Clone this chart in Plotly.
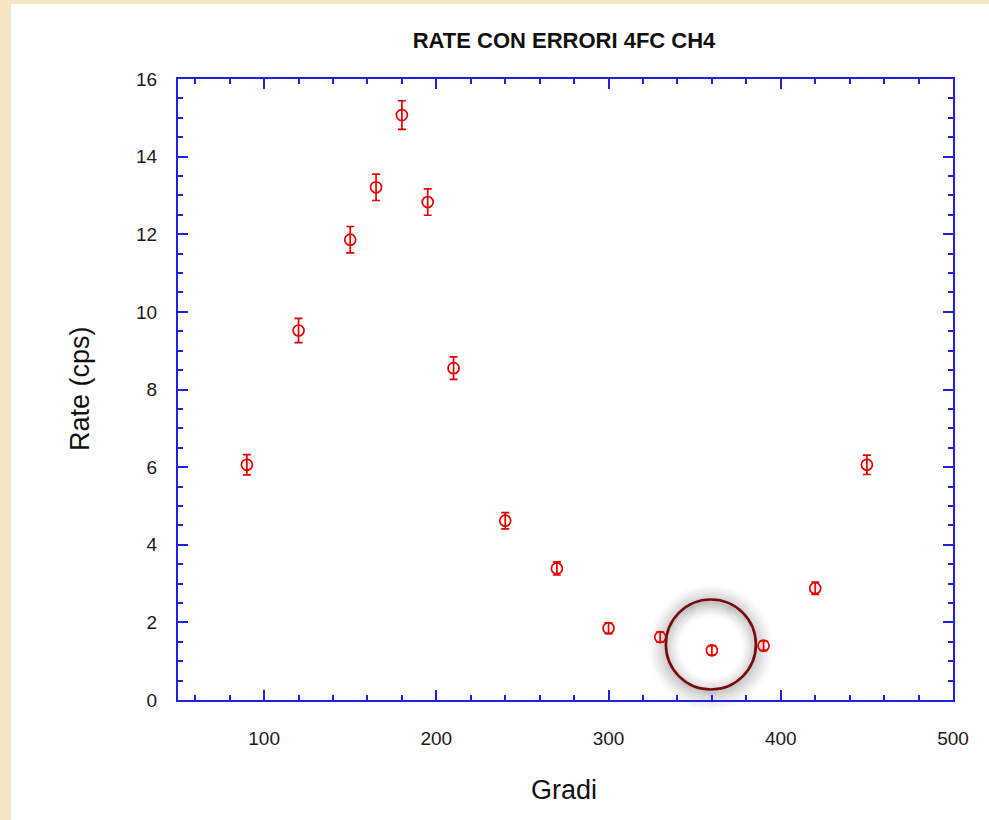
import plotly.graph_objects as go

# Data
gradi = [90, 120, 150, 165, 180, 195, 210, 240, 270, 300, 330, 360, 390, 420, 450]
rate = [6.06, 9.52, 11.86, 13.21, 15.07, 12.83, 8.55, 4.62, 3.39, 1.85, 1.62, 1.28, 1.40, 2.88, 6.06]
errore = [0.26, 0.31, 0.34, 0.34, 0.37, 0.34, 0.29, 0.21, 0.17, 0.14, 0.13, 0.12, 0.12, 0.16, 0.25]

x_ticks = [100, 200, 300, 400, 500]
y_ticks = [0, 2, 4, 6, 8, 10, 12, 14, 16]

title_text = "RATE CON ERRORI 4FC CH4"
x_title = "Gradi"
y_title = "Rate (cps)"

highlight_x = 360  # point circled in the reference

W, H = 989, 820
ML, MR, MT, MB = 178, 36, 79, 120
PW, PH = W - ML - MR, H - MT - MB

FONT = "Arial, Liberation Sans, sans-serif"
AXIS_COL = "#2020e0"
RED = "#e60000"
PARCH = "#f3e7c3"

fig = go.Figure()
fig.add_trace(go.Scatter(
    x=gradi, y=rate, mode="markers",
    marker=dict(symbol="circle-open", size=11, color=RED, line=dict(width=1.7, color=RED)),
    error_y=dict(type="data", array=errore, visible=True, color=RED, thickness=1.7, width=4),
    showlegend=False, hoverinfo="x+y",
))

def px2paperx(p):
    return (p - ML) / PW

def py2papery(p):
    return (H - MB - p) / PH

shapes = []
# parchment frame (left strip + top strip)
shapes.append(dict(type="rect", xref="paper", yref="paper", layer="below",
                   x0=px2paperx(-2), x1=px2paperx(11), y0=py2papery(H + 2), y1=py2papery(-2),
                   fillcolor=PARCH, line=dict(width=0)))
shapes.append(dict(type="rect", xref="paper", yref="paper", layer="below",
                   x0=px2paperx(-2), x1=px2paperx(W + 2), y0=py2papery(4), y1=py2papery(-2),
                   fillcolor=PARCH, line=dict(width=0)))

# highlight circle around the x=360 point, with soft shadow
hi = gradi.index(highlight_x)
cx_px = ML + (highlight_x - 50) / 450 * PW - 1
cy_px = (H - MB) - (rate[hi] + 0.15) / 16 * PH
R = 45
# soft shadow: many thin rings, alpha fading away from the circle edge
for dr in range(-16, 21):
    d = abs(dr)
    span = 20 if dr > 0 else 16
    alpha = 0.17 * (1 - d / span) ** 1.5
    if alpha <= 0.003:
        continue
    r = R + dr
    shapes.append(dict(type="circle", xref="paper", yref="paper", layer="below",
                       x0=px2paperx(cx_px - r), x1=px2paperx(cx_px + r),
                       y0=py2papery(cy_px + r + 3), y1=py2papery(cy_px - r + 3),
                       line=dict(color=f"rgba(0,0,0,{alpha:.4f})", width=1.3)))
shapes.append(dict(type="circle", xref="paper", yref="paper", layer="above",
                   x0=px2paperx(cx_px - R), x1=px2paperx(cx_px + R),
                   y0=py2papery(cy_px + R), y1=py2papery(cy_px - R),
                   line=dict(color="#7a0a0a", width=2.6)))

axis_common = dict(
    showline=True, linecolor=AXIS_COL, linewidth=2, mirror="allticks",
    ticks="inside", tickcolor=AXIS_COL, tickwidth=1.6, ticklen=10,
    showgrid=False, zeroline=False,
    tickfont=dict(family=FONT, size=19, color="#1a1a1a"),
)

fig.update_layout(
    width=W, height=H,
    margin=dict(l=ML, r=MR, t=MT, b=MB, pad=0),
    paper_bgcolor="white", plot_bgcolor="white",
    title=dict(text=f"<b>{title_text}</b>", x=px2paperx(564), xref="paper",
               y=1 - 40.5 / H, yref="container", xanchor="center", yanchor="middle",
               font=dict(family=FONT, size=22, color="#111111")),
    xaxis=dict(range=[50, 500], tickmode="array", tickvals=x_ticks,
               ticklabelstandoff=20,
               minor=dict(dtick=20, tick0=0, ticks="inside", ticklen=5, tickcolor=AXIS_COL, tickwidth=1.6),
               **axis_common),
    yaxis=dict(range=[0, 16], tickmode="array", tickvals=y_ticks,
               ticklabelstandoff=15,
               minor=dict(dtick=0.5, tick0=0, ticks="inside", ticklen=5, tickcolor=AXIS_COL, tickwidth=1.6),
               **axis_common),
    shapes=shapes,
    annotations=[
        dict(text=x_title, xref="paper", yref="paper", x=px2paperx(564), y=py2papery(790),
             xanchor="center", yanchor="middle", showarrow=False,
             font=dict(family=FONT, size=27, color="#111111")),
        dict(text=y_title, xref="paper", yref="paper", x=px2paperx(80), y=py2papery(388),
             xanchor="center", yanchor="middle", showarrow=False, textangle=-90,
             font=dict(family=FONT, size=27, color="#111111")),
    ],
)

fig.write_html("out.html")
